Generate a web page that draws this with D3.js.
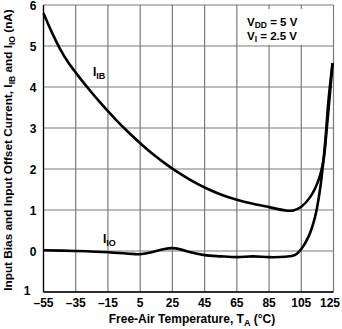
<!DOCTYPE html>
<html>
<head>
<meta charset="utf-8">
<script src="https://cdnjs.cloudflare.com/ajax/libs/d3/7.8.5/d3.min.js"></script>
<style>
  body { margin: 0; background: #fff; }
  text { font-family: "Liberation Sans", Arial, sans-serif; font-weight: bold; fill: #000; }
</style>
</head>
<body>
<svg id="plot"></svg>
<script>
// temperature (°C) and input bias current I_IB (nA)
var ibTemp = [-55, -50, -45, -40, -35, -30, -25, -20, -15, -10, -5, 0, 5, 10, 15, 20, 25, 30, 35, 40, 45, 55, 65, 75, 85, 95, 100, 105, 110.6, 115.7, 118.8, 120.9, 123, 124.4];
var ibVal  = [5.80, 5.35, 4.95, 4.62, 4.35, 4.10, 3.86, 3.63, 3.41, 3.20, 3.00, 2.81, 2.63, 2.46, 2.30, 2.15, 2.01, 1.88, 1.76, 1.65, 1.55, 1.38, 1.25, 1.15, 1.07, 0.99, 0.99, 1.08, 1.32, 1.73, 2.22, 3.03, 3.93, 4.58];

// temperature (°C) and input offset current I_IO (nA)
var ioTemp = [-55, -35, -15, 0, 5, 10, 15, 20, 25, 30, 35, 45, 55, 65, 75, 85, 95, 101, 105, 109.5, 113.6, 116.6, 118.8, 120.3, 121.9, 124.4];
var ioVal  = [0.02, 0.0, -0.03, -0.07, -0.08, -0.05, 0.0, 0.05, 0.07, 0.04, -0.02, -0.1, -0.13, -0.15, -0.13, -0.15, -0.14, -0.1, 0.05, 0.35, 0.84, 1.49, 2.22, 2.87, 3.68, 4.58];

var xTicks = [-55, -35, -15, 5, 25, 45, 65, 85, 105, 125];
var yTicks = [-1, 0, 1, 2, 3, 4, 5, 6];
var yTickText = ["1", "0", "1", "2", "3", "4", "5", "6"];

var width = 342, height = 329;
var margins = {top: 5, bottom: 37, left: 43.5, right: 8.5};

var svg = d3.select("#plot")
    .attr("width", width)
    .attr("height", height);

var xScale = d3.scaleLinear()
    .domain([-55, 125])
    .range([margins.left, width - margins.right]);

var yScale = d3.scaleLinear()
    .domain([-1, 6])
    .range([height - margins.bottom, margins.top]);

// grid
var grid = svg.append("g");
grid.selectAll(".vg")
    .data(xTicks)
    .enter()
    .append("line")
    .attr("x1", function(d) { return xScale(d); })
    .attr("x2", function(d) { return xScale(d); })
    .attr("y1", yScale(6))
    .attr("y2", yScale(-1))
    .attr("stroke", "#7a7a7a")
    .attr("stroke-width", 1.2);
grid.selectAll(".hg")
    .data(yTicks)
    .enter()
    .append("line")
    .attr("x1", xScale(-55))
    .attr("x2", xScale(125))
    .attr("y1", function(d) { return yScale(d); })
    .attr("y2", function(d) { return yScale(d); })
    .attr("stroke", "#7a7a7a")
    .attr("stroke-width", 1.2);

// box behind the conditions text
svg.append("rect")
    .attr("x", xScale(65) + 1.5)
    .attr("y", yScale(6) + 4)
    .attr("width", xScale(125) - xScale(65) - 2.5)
    .attr("height", yScale(5) - yScale(6) - 5)
    .attr("fill", "#fff");

// axis lines
svg.append("line")
    .attr("x1", xScale(-55)).attr("x2", xScale(-55))
    .attr("y1", yScale(6)).attr("y2", yScale(-1))
    .attr("stroke", "#000").attr("stroke-width", 1.3);
svg.append("line")
    .attr("x1", xScale(-55)).attr("x2", xScale(125))
    .attr("y1", yScale(-1)).attr("y2", yScale(-1))
    .attr("stroke", "#000").attr("stroke-width", 1.3);

// tick labels (last one kept inside the page)
svg.selectAll(".xt")
    .data(xTicks)
    .enter()
    .append("text")
    .attr("x", function(d, i) { return i == xTicks.length - 1 ? width - 2 : xScale(d); })
    .attr("y", height - margins.bottom + 15)
    .attr("text-anchor", function(d, i) { return i == xTicks.length - 1 ? "end" : "middle"; })
    .attr("font-size", 12)
    .text(function(d) { return d < 0 ? "\u2013" + (-d) : d; });

svg.selectAll(".yt")
    .data(yTicks)
    .enter()
    .append("text")
    .attr("x", function(d, i) { return margins.left - (i == 0 ? 13 : 7); })
    .attr("y", function(d, i) { return yScale(d) + (i == 0 ? 2.5 : 4.5); })
    .attr("text-anchor", "end")
    .attr("font-size", 12)
    .text(function(d, i) { return yTickText[i]; });

// curves
var line = d3.line()
    .x(function(d) { return xScale(d[0]); })
    .y(function(d) { return yScale(d[1]); })
    .curve(d3.curveCatmullRom.alpha(0.5));

svg.append("path")
    .datum(d3.zip(ibTemp, ibVal))
    .attr("d", line)
    .attr("fill", "none")
    .attr("stroke", "#000")
    .attr("stroke-width", 2.6);

svg.append("path")
    .datum(d3.zip(ioTemp, ioVal))
    .attr("d", line)
    .attr("fill", "none")
    .attr("stroke", "#000")
    .attr("stroke-width", 2.6);

// curve labels
var ib = svg.append("text")
    .attr("x", 93)
    .attr("y", 76)
    .attr("font-size", 12);
ib.append("tspan").text("I");
ib.append("tspan").attr("font-size", 9).attr("dy", 3).text("IB");

var io = svg.append("text")
    .attr("x", 103)
    .attr("y", 243)
    .attr("font-size", 12);
io.append("tspan").text("I");
io.append("tspan").attr("font-size", 9).attr("dy", 3).text("IO");

// conditions
var c1 = svg.append("text").attr("x", 247).attr("y", 26).attr("font-size", 11.5);
c1.append("tspan").text("V");
c1.append("tspan").attr("font-size", 8.5).attr("dy", 2).text("DD");
c1.append("tspan").attr("dy", -2).text(" = 5 V");

var c2 = svg.append("text").attr("x", 247).attr("y", 40).attr("font-size", 11.5);
c2.append("tspan").text("V");
c2.append("tspan").attr("font-size", 8.5).attr("dy", 2).text("I");
c2.append("tspan").attr("dy", -2).text(" = 2.5 V");

// axis titles
var xt = svg.append("text")
    .attr("x", 192)
    .attr("y", 323)
    .attr("text-anchor", "middle")
    .attr("font-size", 12);
xt.append("tspan").text("Free-Air Temperature, T");
xt.append("tspan").attr("font-size", 9).attr("dy", 3).text("A");
xt.append("tspan").attr("dy", -3).text("  (\u00b0C)");

var yt = svg.append("text")
    .attr("transform", "translate(12,150) rotate(-90)")
    .attr("text-anchor", "middle")
    .attr("font-size", 11.8);
yt.append("tspan").text("Input Bias and Input Offset Current,  I");
yt.append("tspan").attr("font-size", 8.5).attr("dy", 3).text("IB");
yt.append("tspan").attr("dy", -3).text("  and I");
yt.append("tspan").attr("font-size", 8.5).attr("dy", 3).text("IO");
yt.append("tspan").attr("dy", -3).text(" (nA)");
</script>
</body>
</html>
